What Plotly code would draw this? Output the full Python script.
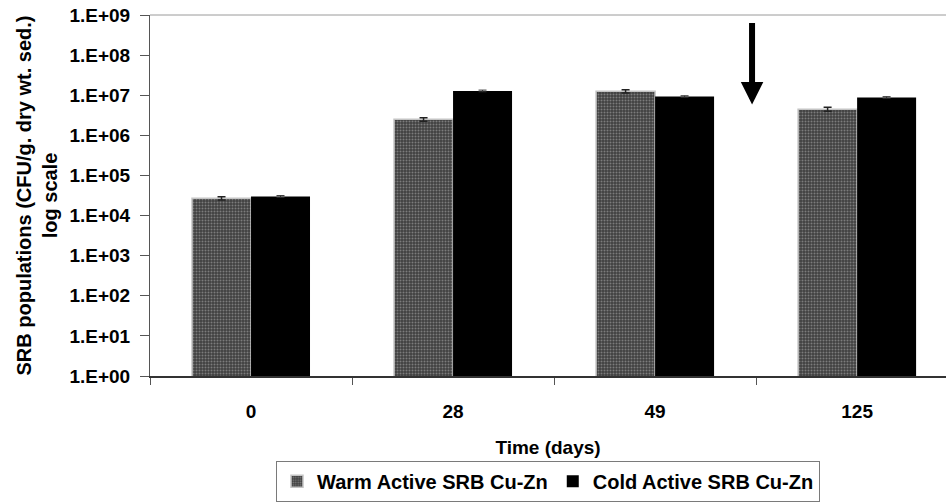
import plotly.graph_objects as go

categories = ["0", "28", "49", "125"]
warm_values = [2.7e4, 2.5e6, 1.25e7, 4.5e6]
warm_errors = [0.25e4, 0.25e6, 0.12e7, 0.5e6]
cold_values = [3.0e4, 1.28e7, 9.3e6, 8.8e6]
cold_errors = [0.15e4, 0.6e6, 0.4e6, 0.4e6]
tick_vals = [1e0, 1e1, 1e2, 1e3, 1e4, 1e5, 1e6, 1e7, 1e8, 1e9]
tick_text = ["1.E+00", "1.E+01", "1.E+02", "1.E+03", "1.E+04",
             "1.E+05", "1.E+06", "1.E+07", "1.E+08", "1.E+09"]
arrow_pos = 2.48      # category-axis position of the arrow
arrow_tip_log = 6.77  # log10 of the arrow tip value

FONT = "Liberation Sans, Arial, sans-serif"

fig = go.Figure()
fig.add_trace(go.Bar(
    x=categories, y=warm_values, name="Warm Active SRB Cu-Zn",
    marker=dict(color="#404040",
                line=dict(color="#c4c4c4", width=1.5),
                pattern=dict(shape=".", bgcolor="#404040", fgcolor="#b8b8b8",
                             size=3, solidity=0.35)),
    error_y=dict(type="data", array=warm_errors, color="#222222",
                 thickness=1.5, width=4),
))
fig.add_trace(go.Bar(
    x=categories, y=cold_values, name="Cold Active SRB Cu-Zn",
    marker=dict(color="#000000", line=dict(color="#000000", width=0)),
    error_y=dict(type="data", array=cold_errors, color="#333333",
                 thickness=1, width=4),
))

fig.add_annotation(
    x=arrow_pos, y=arrow_tip_log, xref="x", yref="y", text="",
    showarrow=True, ax=0, ay=-83, axref="pixel", ayref="pixel",
    arrowcolor="#000000", arrowwidth=6, arrowhead=2, arrowsize=0.75,
    standoff=0, startstandoff=0,
)

# top border of the plot area
fig.add_shape(type="line", xref="paper", yref="paper", x0=0, x1=1, y0=1, y1=1,
              line=dict(color="#9a9a9a", width=1))

fig.update_layout(
    width=946, height=502,
    margin=dict(l=150, r=0, t=15, b=124),
    paper_bgcolor="white", plot_bgcolor="white",
    barmode="group", bargap=0.416, bargroupgap=0,
    font=dict(family=FONT, size=19, color="#000000"),
    showlegend=True,
    legend=dict(orientation="h", x=0.5, xanchor="center", y=-0.235,
                yanchor="top", bordercolor="#7a7a7a", borderwidth=1,
                font=dict(family=FONT, size=20, color="#000000", weight="bold"),
                itemwidth=30, tracegroupgap=0),
    xaxis=dict(
        range=[-0.5, 3.44], type="category",
        showline=True, linecolor="#333333", linewidth=1.5,
        ticks="outside", tickson="boundaries", ticklen=7, tickcolor="#555555",
        ticklabelstandoff=17,
        tickfont=dict(family=FONT, size=19, weight="bold"),
        title=dict(text="<b>Time (days)</b>", font=dict(family=FONT, size=19), standoff=20),
        showgrid=False, zeroline=False,
    ),
    yaxis=dict(
        type="log", range=[0, 9],
        tickvals=tick_vals, ticktext=tick_text,
        showline=True, linecolor="#555555", linewidth=1,
        ticks="outside", ticklen=9, tickcolor="#555555",
        ticklabelstandoff=6,
        tickfont=dict(family=FONT, size=19, weight="bold"),
        showgrid=False, zeroline=False,
        title=dict(text="<b>SRB populations (CFU/g. dry wt. sed.)<br>log scale</b>",
                   font=dict(family=FONT, size=20), standoff=6),
    ),
)

fig.write_html("out.html")
